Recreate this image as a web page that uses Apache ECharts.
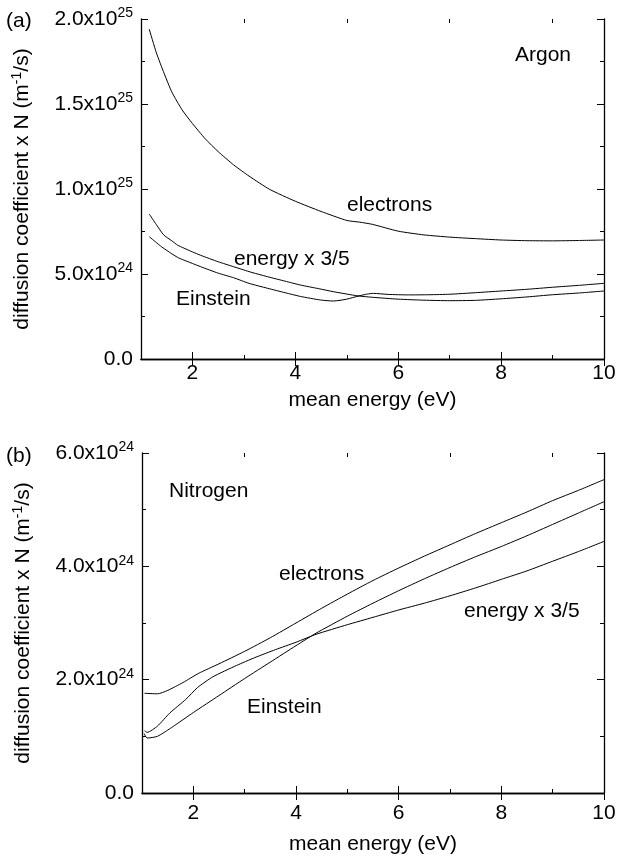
<!DOCTYPE html>
<html>
<head>
<meta charset="utf-8">
<script src="https://cdn.jsdelivr.net/npm/echarts/dist/echarts.min.js"></script>
<style>
  html, body { margin: 0; padding: 0; background: #fff; }
  #chart { width: 618px; height: 860px; }
</style>
</head>
<body>
<div id="chart"></div>
<script>
// values are in units of 1e24 (m^-1/s)
const argonElectronsX = [1.16, 1.3, 1.45, 1.6, 1.8, 2.0, 2.25, 2.5, 2.8, 3.1, 3.5, 4.0, 4.5, 5.0, 5.25, 5.5, 6.0, 6.5, 7.0, 7.5, 8.0, 8.5, 9.0, 9.5, 10]
const argonElectronsY = [19.4, 18.0, 16.8, 15.7, 14.65, 13.85, 12.95, 12.2, 11.42, 10.76, 9.98, 9.28, 8.68, 8.15, 8.05, 7.92, 7.52, 7.3, 7.17, 7.08, 7.0, 6.96, 6.95, 6.97, 7.0]
const argonEnergyX = [1.16, 1.3, 1.44, 1.6, 1.71, 2.0, 2.16, 2.5, 2.8, 3.1, 3.46, 3.8, 4.1, 4.45, 4.74, 5.0, 5.22, 5.5, 6.0, 6.5, 7.0, 7.5, 8.0, 8.5, 9.0, 9.5, 10]
const argonEnergyY = [8.53, 7.9, 7.3, 6.95, 6.7, 6.3, 6.1, 5.72, 5.43, 5.14, 4.84, 4.58, 4.35, 4.14, 3.96, 3.82, 3.71, 3.63, 3.52, 3.46, 3.43, 3.45, 3.54, 3.65, 3.78, 3.88, 4.0]
const argonEinsteinX = [1.16, 1.4, 1.71, 2.0, 2.16, 2.5, 2.8, 3.1, 3.46, 3.8, 4.1, 4.49, 4.74, 5.0, 5.22, 5.4, 5.52, 5.8, 6.2, 6.6, 7.0, 7.5, 8.0, 8.5, 9.0, 9.5, 10]
const argonEinsteinY = [7.2, 6.6, 5.98, 5.62, 5.43, 5.05, 4.78, 4.45, 4.16, 3.9, 3.68, 3.47, 3.41, 3.52, 3.7, 3.82, 3.86, 3.8, 3.77, 3.78, 3.81, 3.9, 4.0, 4.1, 4.22, 4.33, 4.45]

const nitrogenElectronsX = [1.05, 1.3, 1.5, 1.8, 2.1, 2.5, 3.0, 3.5, 4.0, 4.5, 5.0, 5.5, 6.0, 6.5, 7.0, 7.5, 8.0, 8.5, 9.0, 9.5, 10]
const nitrogenElectronsY = [1.76, 1.75, 1.81, 1.95, 2.11, 2.28, 2.5, 2.74, 3.0, 3.26, 3.51, 3.75, 3.97, 4.18, 4.38, 4.58, 4.77, 4.96, 5.16, 5.34, 5.53]
const nitrogenEnergyX = [1.05, 1.1, 1.3, 1.54, 1.85, 2.08, 2.38, 2.84, 3.2, 3.6, 4.0, 4.39, 5.0, 5.5, 6.0, 6.5, 7.0, 7.5, 8.0, 8.5, 9.0, 9.5, 10]
const nitrogenEnergyY = [1.10, 1.07, 1.18, 1.41, 1.65, 1.86, 2.05, 2.25, 2.39, 2.53, 2.66, 2.80, 2.97, 3.1, 3.23, 3.35, 3.48, 3.62, 3.77, 3.92, 4.09, 4.26, 4.44]
const nitrogenEinsteinX = [1.04, 1.1, 1.3, 1.6, 2.0, 2.5, 3.0, 3.5, 4.0, 4.39, 5.0, 5.5, 6.0, 6.5, 7.0, 7.5, 8.0, 8.5, 9.0, 9.5, 10]
const nitrogenEinsteinY = [1.05, 0.97, 1.0, 1.17, 1.42, 1.72, 2.02, 2.31, 2.6, 2.82, 3.12, 3.35, 3.57, 3.78, 3.98, 4.17, 4.35, 4.54, 4.74, 4.94, 5.14]

// ticks
const xMajorTicks = [2, 4, 6, 8, 10]
const xMinorTicks = [3, 5, 7, 9]
const yTicksA = [0, 5, 10, 15, 20]
const yTextA = ['0.0', '5.0x10', '1.0x10', '1.5x10', '2.0x10']
const yExpA = ['', '24', '25', '25', '25']
const yTicksB = [0, 2, 4, 6]
const yTextB = ['0.0', '2.0x10', '4.0x10', '6.0x10']
const yExpB = ['', '24', '24', '24']

const font = "'Liberation Sans', Arial, Helvetica, sans-serif"
const black = '#000'
const fs = 21
const supStyle = { fontSize: 14, fontFamily: font, color: black, verticalAlign: 'top', lineHeight: 10 }
const mainStyle = { fontSize: fs, fontFamily: font, color: black, lineHeight: 25 }

const pair = (xs, ys) => xs.map((x, i) => [x, ys[i]])

function yLabel(ticks, texts, exps) {
  return (v) => {
    const i = ticks.findIndex(t => Math.abs(t - v) < 1e-6)
    if (i < 0) return ''
    return exps[i] ? `{m|${texts[i]}}{s|${exps[i]}}` : `{m|${texts[i]}}`
  }
}

function xAxesFor(grid, nameGap, labelMargin) {
  const base = { type: 'value', gridIndex: grid, min: 1, max: 10, splitLine: { show: false } }
  return [
    {
      ...base,
      position: 'bottom',
      name: 'mean energy (eV)',
      nameLocation: 'middle',
      nameGap: nameGap,
      nameTextStyle: { fontSize: fs, fontFamily: font, color: black },
      axisLine: { lineStyle: { color: black, width: 1.3 } },
      axisTick: { customValues: xMajorTicks, inside: true, length: 7, lineStyle: { color: black } },
      axisLabel: { customValues: xMajorTicks, margin: labelMargin, fontSize: fs, fontFamily: font, color: black },
    },
    {
      ...base,
      position: 'top',
      axisLine: { lineStyle: { color: black, width: 1.3 } },
      axisTick: { customValues: xMajorTicks, inside: true, length: 7, lineStyle: { color: black } },
      axisLabel: { show: false },
    },
  ]
}

function minorXAxesFor(grid) {
  const base = { type: 'value', gridIndex: grid, min: 1, max: 10, splitLine: { show: false }, axisLine: { show: false }, axisLabel: { show: false } }
  return [
    { ...base, position: 'bottom', axisTick: { customValues: xMinorTicks, inside: true, length: 4, lineStyle: { color: black } } },
    { ...base, position: 'top', axisTick: { customValues: xMinorTicks, inside: true, length: 4, lineStyle: { color: black } } },
  ]
}

function yAxesFor(grid, max, interval, ticks, texts, exps) {
  const base = {
    type: 'value', gridIndex: grid, min: 0, max: max, interval: interval,
    splitLine: { show: false },
    axisLine: { show: true, lineStyle: { color: black, width: 1.3 } },
    axisTick: { inside: true, length: 7, lineStyle: { color: black } },
    minorTick: { show: true, splitNumber: 2, length: 4, lineStyle: { color: black } },
  }
  return [
    {
      ...base,
      position: 'left',
      name: 'diffusion coefficient x N (m{s|-1}/s)',
      nameLocation: 'middle',
      nameGap: 106,
      nameRotate: 90,
      nameTextStyle: { ...mainStyle, rich: { s: supStyle } },
      axisLabel: {
        margin: 8, showMinLabel: true, showMaxLabel: true,
        formatter: yLabel(ticks, texts, exps),
        rich: { m: mainStyle, s: supStyle },
      },
    },
    { ...base, position: 'right', axisLabel: { show: false } },
  ]
}

function line(name, xs, ys, xi, yi) {
  return {
    name, type: 'line', xAxisIndex: xi, yAxisIndex: yi,
    data: pair(xs, ys), showSymbol: false, smooth: 0.2,
    lineStyle: { color: black, width: 1 }, silent: true, animation: false,
  }
}

function label(text, x, y) {
  return {
    type: 'text', x, y, silent: true,
    style: { text, font: `${fs}px ${font}`, fill: black, textAlign: 'left', textVerticalAlign: 'middle' },
  }
}

const chart = echarts.init(document.getElementById('chart'), null, { renderer: 'canvas' })
chart.setOption({
  backgroundColor: '#fff',
  animation: false,
  grid: [
    { left: 141, top: 19, width: 463, height: 340, outerBoundsMode: 'none' },
    { left: 142, top: 453, width: 462, height: 340, outerBoundsMode: 'none' },
    { left: 141, top: 19, width: 463, height: 340, outerBoundsMode: 'none' },
    { left: 142, top: 453, width: 462, height: 340, outerBoundsMode: 'none' },
  ],
  xAxis: [
    ...xAxesFor(0, 31, 4),
    ...xAxesFor(1, 41, 10),
    ...minorXAxesFor(2),
    ...minorXAxesFor(3),
  ],
  yAxis: [
    ...yAxesFor(0, 20, 5, yTicksA, yTextA, yExpA),
    ...yAxesFor(1, 6, 2, yTicksB, yTextB, yExpB),
    { type: 'value', gridIndex: 2, min: 0, max: 20, show: false },
    { type: 'value', gridIndex: 3, min: 0, max: 6, show: false },
  ],
  series: [
    line('electrons', argonElectronsX, argonElectronsY, 0, 0),
    line('energy x 3/5', argonEnergyX, argonEnergyY, 0, 0),
    line('Einstein', argonEinsteinX, argonEinsteinY, 0, 0),
    line('electrons', nitrogenElectronsX, nitrogenElectronsY, 2, 2),
    line('energy x 3/5', nitrogenEnergyX, nitrogenEnergyY, 2, 2),
    line('Einstein', nitrogenEinsteinX, nitrogenEinsteinY, 2, 2),
  ],
  graphic: [
    label('(a)', 6, 21),
    label('(b)', 6, 456),
    label('Argon', 515, 55),
    label('electrons', 347, 205),
    label('energy x 3/5', 234, 259),
    label('Einstein', 176, 299),
    label('Nitrogen', 169, 491),
    label('electrons', 279, 574),
    label('energy x 3/5', 464, 611),
    label('Einstein', 247, 707),
  ],
})
</script>
</body>
</html>
